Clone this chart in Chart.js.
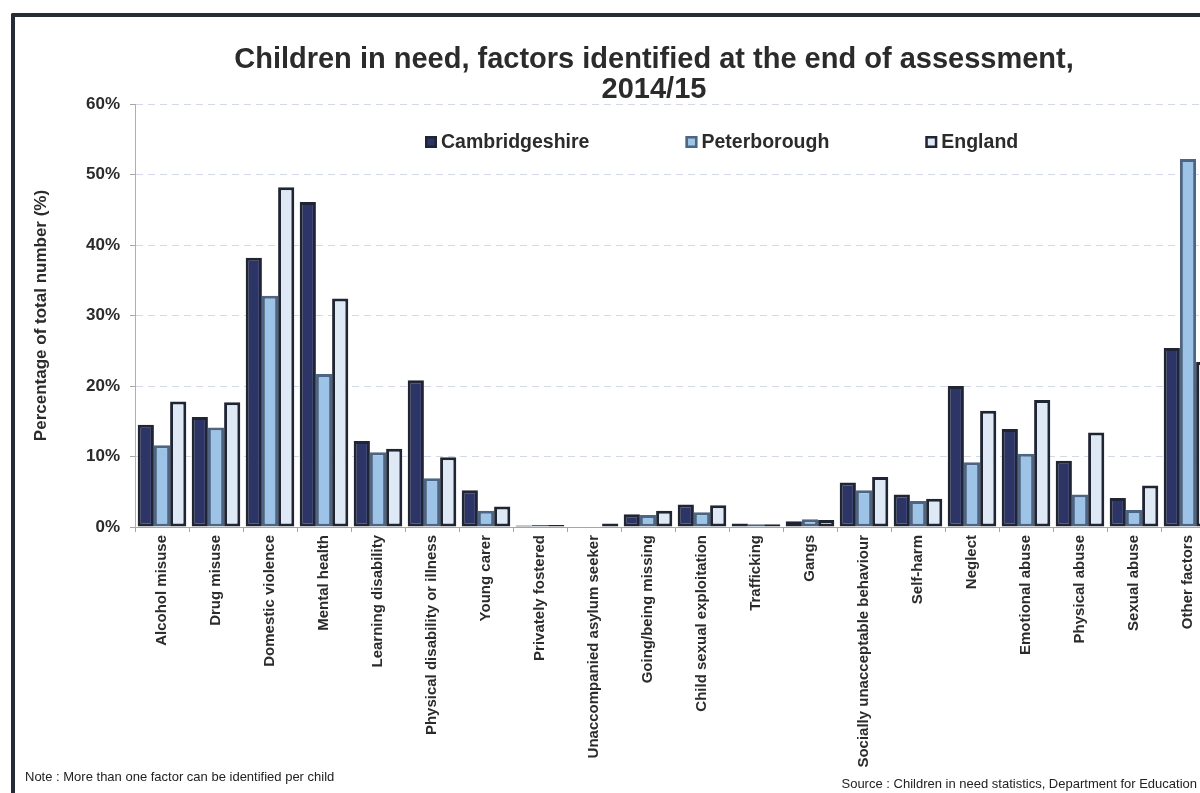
<!DOCTYPE html>
<html>
<head>
<meta charset="utf-8">
<script src="https://cdn.jsdelivr.net/npm/chart.js@4.4.1/dist/chart.umd.min.js"></script>
<style>
    html, body { margin: 0; padding: 0; background: #fff; overflow: hidden; }
    body { width: 1200px; height: 793px; position: relative; font-family: "Liberation Sans", Arial, sans-serif; }
    .frame {
        position: absolute; left: 11px; top: 13px; width: 1400px; height: 1000px;
        border-left: 4px solid #262c37; border-top: 4px solid #262c37;
        border-top-left-radius: 2px;
    }
    .chart-wrap { position: absolute; left: 0; top: 0; width: 1304px; height: 793px; }
    .title {
        position: absolute; left: 154px; width: 1000px; top: 43px;
        text-align: center; font-weight: bold; font-size: 29px; line-height: 30px; color: #2b2b2b;
    }
    .note { position: absolute; left: 25px; top: 769px; font-size: 13px; color: #222; }
    .source { position: absolute; right: 3px; top: 776px; font-size: 13px; color: #222; }
</style>
</head>
<body>
<div class="frame"></div>
<div class="chart-wrap"><canvas id="cinChart"></canvas></div>
<div class="title">Children in need, factors identified at the end of assessment,<br>2014/15</div>
<div class="note">Note : More than one factor can be identified per child</div>
<div class="source">Source : Children in need statistics, Department for Education</div>

<script>
    // Factor categories (x axis)
    const factors = [
        "Alcohol misuse", "Drug misuse", "Domestic violence", "Mental health",
        "Learning disability", "Physical disability or illness", "Young carer",
        "Privately fostered", "Unaccompanied asylum seeker", "Going/being missing",
        "Child sexual exploitation", "Trafficking", "Gangs",
        "Socially unacceptable behaviour", "Self-harm", "Neglect",
        "Emotional abuse", "Physical abuse", "Sexual abuse", "Other factors"
    ];

    // Percentage of total number (%)
    const cambridgeshire = [14.5, 15.6, 38.2, 46.1, 12.2, 20.8, 5.2, 0.2, 0, 1.8, 3.2, 0.5, 0.8, 6.3, 4.6, 20.0, 13.9, 9.4, 4.1, 25.4];
    const peterborough   = [11.6, 14.1, 32.8, 21.7, 10.6, 6.9, 2.3, 0.3, 0, 1.7, 2.1, 0.4, 1.1, 5.2, 3.7, 9.2, 10.4, 4.6, 2.4, 52.2];
    const england        = [17.8, 17.7, 48.2, 32.4, 11.1, 9.9, 2.9, 0.3, 0.5, 2.3, 3.1, 0.4, 1.0, 7.1, 4.0, 16.5, 18.0, 13.4, 5.9, 23.4];

    const yTicks = [0, 10, 20, 30, 40, 50, 60];

    const textColor = "#2b2b2b";
    const fontFamily = '"Liberation Sans", Arial, sans-serif';

    // Legend drawn inside the plot area, like the Excel original
    const insideLegend = {
        id: "insideLegend",
        afterDraw(chart) {
            const { ctx, chartArea } = chart;
            const y = chartArea.top + 38;
            let x = chartArea.left + 290;
            ctx.save();
            ctx.font = "bold 19.5px " + fontFamily;
            ctx.textBaseline = "middle";
            chart.data.datasets.forEach((ds) => {
                ctx.fillStyle = ds.backgroundColor;
                ctx.strokeStyle = ds.borderColor;
                ctx.lineWidth = 2.5;
                ctx.fillRect(x, y - 6, 12, 12);
                ctx.strokeRect(x + 1.25, y - 4.75, 9.5, 9.5);
                ctx.fillStyle = textColor;
                ctx.fillText(ds.label, x + 16, y + 1);
                x += 16 + ctx.measureText(ds.label).width + 96;
            });
            ctx.restore();
        },
    };

    function makeDataset(label, values, fill, border) {
        return {
            label,
            data: values,
            backgroundColor: fill,
            borderColor: border,
            borderWidth: 3,
            borderSkipped: false,
            categoryPercentage: 0.9,
            barPercentage: 1.0,
        };
    }

    new Chart(document.getElementById("cinChart"), {
        type: "bar",
        data: {
            labels: factors,
            datasets: [
                makeDataset("Cambridgeshire", cambridgeshire, "#2d3566", "#1f2533"),
                makeDataset("Peterborough", peterborough, "#9dc3e6", "#4d6482"),
                makeDataset("England", england, "#dfe9f5", "#1f2533"),
            ],
        },
        options: {
            responsive: true,
            maintainAspectRatio: false,
            animation: false,
            layout: { padding: { left: 0, right: 89, top: 104, bottom: 0 } },
            plugins: {
                legend: { display: false },
                tooltip: { enabled: false },
            },
            scales: {
                x: {
                    border: { display: true, color: "#a6a6a6", width: 1 },
                    grid: {
                        display: true,
                        drawOnChartArea: false,
                        drawTicks: true,
                        tickLength: 5,
                        tickColor: "#a6a6a6",
                        offset: true,
                    },
                    ticks: {
                        autoSkip: false,
                        maxRotation: 90,
                        minRotation: 90,
                        padding: 3,
                        color: textColor,
                        font: { family: fontFamily, size: 15, weight: "bold" },
                    },
                    afterFit(scale) { scale.height = 266; },
                },
                y: {
                    min: 0,
                    max: 60,
                    afterBuildTicks(scale) { scale.ticks = yTicks.map((v) => ({ value: v })); },
                    border: { display: true, color: "#b0b0b0", width: 1, dash: [7, 5] },
                    grid: {
                        color: "#d3d8e6",
                        lineWidth: 1,
                        tickLength: 5,
                        tickColor: "#a6a6a6",
                        tickBorderDash: [],
                    },
                    ticks: {
                        padding: 10,
                        color: textColor,
                        font: { family: fontFamily, size: 17, weight: "bold" },
                        callback: (v) => v + "%",
                    },
                    title: {
                        display: true,
                        text: "Percentage of total number (%)",
                        color: textColor,
                        font: { family: fontFamily, size: 17, weight: "bold" },
                        padding: { top: 31, bottom: 0 },
                    },
                    afterFit(scale) { scale.width = 135; },
                },
            },
        },
        plugins: [insideLegend],
    });
</script>
</body>
</html>
